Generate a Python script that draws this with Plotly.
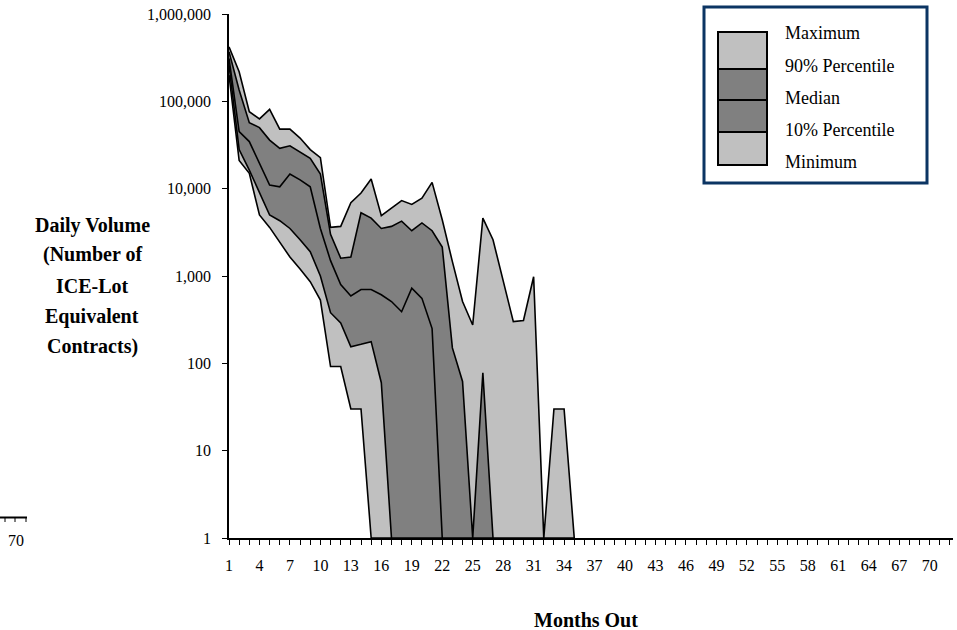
import plotly.graph_objects as go

# ---- data (axis floor 1 = zero volume) ----
months = list(range(1, 36))
maximum = [420000, 218000, 76000, 63000, 81000, 48000, 48000, 38000, 28000, 22600,
           3600, 3700, 6900, 8900, 12900, 4900, 6000, 7300, 6600, 7800,
           11800, 4400, 1460, 510, 275, 4600, 2600, 900, 300, 310,
           980, 1, 30, 30, 1]
p90 = [370000, 135000, 57000, 50000, 36000, 29000, 31000, 26000, 22300, 14700,
       3000, 1600, 1650, 5300, 4600, 3500, 3700, 4250, 3300, 4050,
       3300, 2150, 150, 62, 1, 78, 1, 1, 1, 1,
       1, 1, 1, 1, 1]
median = [310000, 45000, 34600, 19500, 11000, 10500, 14700, 12600, 10500, 3500,
          1500, 800, 590, 700, 700, 610, 510, 390, 725, 555,
          250, 1, 1, 1, 1, 1, 1, 1, 1, 1,
          1, 1, 1, 1, 1]
p10 = [260000, 28000, 16300, 8900, 5000, 4300, 3500, 2600, 1900, 1000,
       380, 290, 155, 165, 177, 60, 1, 1, 1, 1,
       1, 1, 1, 1, 1, 1, 1, 1, 1, 1,
       1, 1, 1, 1, 1]
minimum = [200000, 21000, 15000, 5000, 3600, 2400, 1650, 1200, 860, 530,
           92, 92, 30, 30, 1, 1, 1, 1, 1, 1,
           1, 1, 1, 1, 1, 1, 1, 1, 1, 1,
           1, 1, 1, 1, 1]

x_tick_vals = list(range(1, 73))
x_tick_text = [str(v) if (v - 1) % 3 == 0 and v <= 70 else "" for v in x_tick_vals]
y_tick_vals = [1, 10, 100, 1000, 10000, 100000, 1000000]
y_tick_text = ["1", "10", "100", "1,000", "10,000", "100,000", "1,000,000"]
legend_labels = ["Maximum", "90% Percentile", "Median", "10% Percentile", "Minimum"]

LIGHT = "#C0C0C0"
DARK = "#808080"
FONT = "Liberation Serif"

# ---- geometry (pixels) ----
W, H = 957, 630
L, R, T, B = 229, 953, 14, 538


def px(x):
    return (x - L) / (R - L)


def py(y):
    return (B - y) / (B - T)


fig = go.Figure()
series = [(minimum, None, None), (p10, "tonexty", LIGHT), (median, "tonexty", DARK),
          (p90, "tonexty", DARK), (maximum, "tonexty", LIGHT)]
for vals, fill, col in series:
    fig.add_trace(go.Scatter(
        x=months, y=vals, mode="lines",
        line=dict(color="black", width=1.6),
        fill=fill, fillcolor=col, showlegend=False, hoverinfo="skip"))

shapes = []
annotations = []

# legend box
shapes.append(dict(type="rect", xref="paper", yref="paper",
                   x0=px(704), x1=px(927), y0=py(7), y1=py(183),
                   line=dict(color="#0B3563", width=3), fillcolor="white", layer="above"))
sw = [(32, 69, LIGHT), (69, 100, DARK), (100, 132, DARK), (132, 165, LIGHT)]
for y0, y1, c in sw:
    shapes.append(dict(type="rect", xref="paper", yref="paper",
                       x0=px(718), x1=px(767), y0=py(y0), y1=py(y1),
                       line=dict(color="black", width=2), fillcolor=c, layer="above"))
for lab, yc in zip(legend_labels, [33, 66, 98, 130, 162]):
    annotations.append(dict(text=lab, xref="paper", yref="paper", x=px(783), y=py(yc),
                            xanchor="left", yanchor="middle", showarrow=False,
                            font=dict(family=FONT, size=18, color="black")))

# axis titles
annotations.append(dict(text="<b>Months Out</b>", xref="paper", yref="paper",
                        x=px(586), y=py(620), xanchor="center", yanchor="middle",
                        showarrow=False, font=dict(family=FONT, size=20, color="black")))
for t, yc in zip(["Daily Volume", "(Number of", "ICE-Lot", "Equivalent", "Contracts)"],
                 [225, 255, 286, 316, 347]):
    annotations.append(dict(text="<b>" + t + "</b>", xref="paper", yref="paper",
                            x=px(92), y=py(yc), xanchor="center", yanchor="middle",
                            showarrow=False, font=dict(family=FONT, size=20, color="black")))

# stray fragment of a neighbouring chart at the left edge
shapes.append(dict(type="line", xref="paper", yref="paper", x0=px(0), x1=px(27),
                   y0=py(517.5), y1=py(517.5), line=dict(color="black", width=2)))
for tx in [5, 15, 26]:
    shapes.append(dict(type="line", xref="paper", yref="paper", x0=px(tx), x1=px(tx),
                       y0=py(517.5), y1=py(522), line=dict(color="black", width=1)))
annotations.append(dict(text="70", xref="paper", yref="paper", x=px(16), y=py(540),
                        xanchor="center", yanchor="middle", showarrow=False,
                        font=dict(family=FONT, size=16, color="black")))

fig.update_layout(
    width=W, height=H,
    margin=dict(l=L, r=W - R, t=T, b=H - B),
    paper_bgcolor="white", plot_bgcolor="white",
    font=dict(family=FONT, size=16, color="black"),
    shapes=shapes, annotations=annotations,
    xaxis=dict(range=[1, 72.3], tickmode="array", tickvals=x_tick_vals, ticktext=x_tick_text,
               showline=True, linecolor="black", linewidth=1.5, ticks="outside", ticklen=5,
               tickcolor="black", tickwidth=1, showgrid=False, zeroline=False,
               tickfont=dict(family=FONT, size=16), ticklabelstandoff=7),
    yaxis=dict(type="log", range=[0, 6], tickmode="array", tickvals=y_tick_vals,
               ticktext=y_tick_text, showline=True, linecolor="black", linewidth=1.5,
               ticks="outside", ticklen=5, tickcolor="black", tickwidth=1,
               showgrid=False, zeroline=False, tickfont=dict(family=FONT, size=16),
               ticklabelstandoff=8),
)

fig.write_html("out.html")
